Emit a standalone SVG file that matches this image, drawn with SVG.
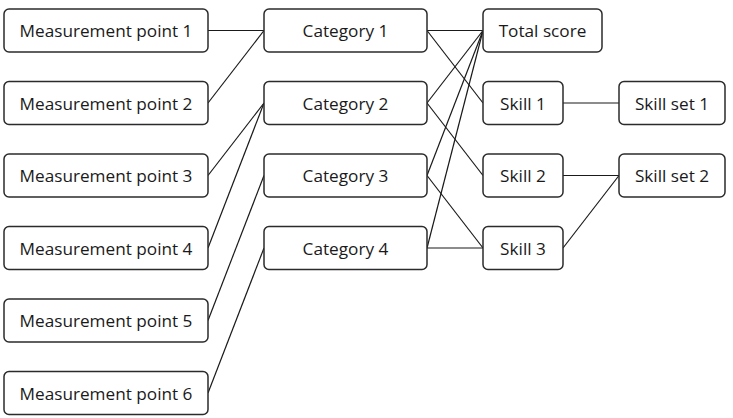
<svg xmlns="http://www.w3.org/2000/svg" width="733" height="418" viewBox="0 0 733 418">
<style>
.box{fill:#fff;stroke:#2b2b2b;stroke-width:1.5}
.lbl{font-family:"Open Sans","Noto Sans",sans-serif;font-size:17.2px;fill:#1a1a1a;text-anchor:middle;dominant-baseline:central}
.con line{stroke:#1a1a1a;stroke-width:1.2;fill:none}
</style>
<rect width="733" height="418" fill="#fff"/>
<g class="con" id="connectors">
<line x1="208" y1="30.5" x2="264" y2="30.5"/>
<line x1="208" y1="103" x2="264" y2="30.5"/>
<line x1="208" y1="175.5" x2="264" y2="103"/>
<line x1="208" y1="248" x2="264" y2="103"/>
<line x1="208" y1="320.5" x2="264" y2="175.5"/>
<line x1="208" y1="393" x2="264" y2="248"/>
<line x1="427" y1="30.5" x2="483" y2="30.5"/>
<line x1="427" y1="30.5" x2="483" y2="103"/>
<line x1="427" y1="103" x2="483" y2="30.5"/>
<line x1="427" y1="103" x2="483" y2="175.5"/>
<line x1="427" y1="175.5" x2="483" y2="30.5"/>
<line x1="427" y1="175.5" x2="483" y2="248"/>
<line x1="427" y1="248" x2="483" y2="30.5"/>
<line x1="427" y1="248" x2="483" y2="248"/>
<line x1="563" y1="103" x2="619" y2="103"/>
<line x1="563" y1="175.5" x2="619" y2="175.5"/>
<line x1="563" y1="248" x2="619" y2="175.5"/>
</g>
<g id="mp1"><rect class="box" x="4" y="9" width="204" height="43" rx="5"/><text class="lbl" x="106" y="30.5">Measurement point 1</text></g>
<g id="mp2"><rect class="box" x="4" y="81.5" width="204" height="43" rx="5"/><text class="lbl" x="106" y="103">Measurement point 2</text></g>
<g id="mp3"><rect class="box" x="4" y="154" width="204" height="43" rx="5"/><text class="lbl" x="106" y="175.5">Measurement point 3</text></g>
<g id="mp4"><rect class="box" x="4" y="226.5" width="204" height="43" rx="5"/><text class="lbl" x="106" y="248">Measurement point 4</text></g>
<g id="mp5"><rect class="box" x="4" y="299" width="204" height="43" rx="5"/><text class="lbl" x="106" y="320.5">Measurement point 5</text></g>
<g id="mp6"><rect class="box" x="4" y="371.5" width="204" height="43" rx="5"/><text class="lbl" x="106" y="393">Measurement point 6</text></g>
<g id="cat1"><rect class="box" x="264" y="9" width="163" height="43" rx="5"/><text class="lbl" x="345.5" y="30.5">Category 1</text></g>
<g id="cat2"><rect class="box" x="264" y="81.5" width="163" height="43" rx="5"/><text class="lbl" x="345.5" y="103">Category 2</text></g>
<g id="cat3"><rect class="box" x="264" y="154" width="163" height="43" rx="5"/><text class="lbl" x="345.5" y="175.5">Category 3</text></g>
<g id="cat4"><rect class="box" x="264" y="226.5" width="163" height="43" rx="5"/><text class="lbl" x="345.5" y="248">Category 4</text></g>
<g id="total"><rect class="box" x="483" y="9" width="119" height="43" rx="5"/><text class="lbl" x="542.5" y="30.5">Total score</text></g>
<g id="skill1"><rect class="box" x="483" y="81.5" width="80" height="43" rx="5"/><text class="lbl" x="523" y="103">Skill 1</text></g>
<g id="skill2"><rect class="box" x="483" y="154" width="80" height="43" rx="5"/><text class="lbl" x="523" y="175.5">Skill 2</text></g>
<g id="skill3"><rect class="box" x="483" y="226.5" width="80" height="43" rx="5"/><text class="lbl" x="523" y="248">Skill 3</text></g>
<g id="skillset1"><rect class="box" x="619" y="81.5" width="106" height="43" rx="5"/><text class="lbl" x="672" y="103">Skill set 1</text></g>
<g id="skillset2"><rect class="box" x="619" y="154" width="106" height="43" rx="5"/><text class="lbl" x="672" y="175.5">Skill set 2</text></g>
</svg>
